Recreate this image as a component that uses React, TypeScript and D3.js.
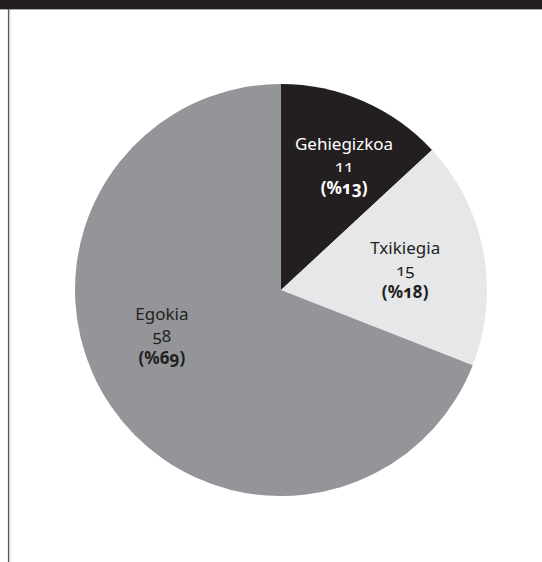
import React from "react";
import * as d3 from "d3";

const categories = ["Gehiegizkoa", "Txikiegia", "Egokia"];
const values = [11, 15, 58];
const percents = ["%13", "%18", "%69"];

const colors = ["#231f20", "#e6e7e8", "#939598"];
const textColors = ["#ffffff", "#231f20", "#231f20"];
const labelNudgeDeg = [4.5, 4.3, 10.7];
const labelRadius = [134, 125, 130];

const W = 542;
const H = 562;
const cx = 281;
const cy = 290;
const R = 206;

export default function App() {
  const pie = d3.pie<number>().sort(null).value((d) => d)(values);
  const arc = d3.arc<d3.PieArcDatum<number>>().innerRadius(0).outerRadius(R);
  const font = "'Noto Sans', 'Open Sans', sans-serif";
  return (
    <svg
      width={W}
      height={H}
      style={{ position: "absolute", left: 0, top: 0, background: "#fff" }}
    >
      <rect x={0} y={0} width={W} height={9} fill="#231f20" />
      <line x1={0} x2={W} y1={9.5} y2={9.5} stroke="#a7a9ac" strokeWidth={1} />
      <line x1={8.5} x2={8.5} y1={9} y2={H} stroke="#58595b" strokeWidth={1.2} />
      <line x1={9.8} x2={9.8} y1={10} y2={H} stroke="#c7c8ca" strokeWidth={1} />
      <g transform={`translate(${cx},${cy})`}>
        {pie.map((p, i) => (
          <path key={categories[i]} d={arc(p) || ""} fill={colors[i]} />
        ))}
        {pie.map((p, i) => {
          const mid = (p.startAngle + p.endAngle) / 2 + (labelNudgeDeg[i] * Math.PI) / 180;
          const x = Math.sin(mid) * labelRadius[i];
          const y = -Math.cos(mid) * labelRadius[i];
          return (
            <text
              key={"l" + i}
              x={x}
              y={y}
              textAnchor="middle"
              fill={textColors[i]}
              fontFamily={font}
              fontSize={17}
              style={{ fontVariantNumeric: "oldstyle-nums" }}
            >
              <tspan x={x} dy={-22}>{categories[i]}</tspan>
              <tspan x={x} dy={22}>{values[i]}</tspan>
              <tspan x={x} dy={22} fontWeight="bold">({percents[i]})</tspan>
            </text>
          );
        })}
      </g>
    </svg>
  );
}
